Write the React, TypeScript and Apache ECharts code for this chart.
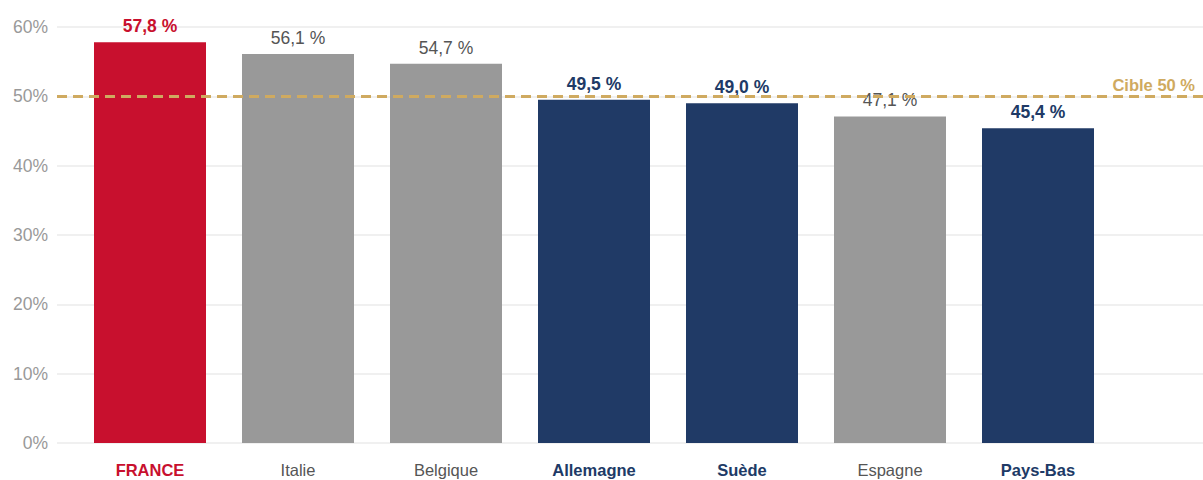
import React, { useEffect, useRef } from "react";
import * as echarts from "echarts";

const categories = ["FRANCE", "Italie", "Belgique", "Allemagne", "Suède", "Espagne", "Pays-Bas"];
const values = [57.8, 56.1, 54.7, 49.5, 49.0, 47.1, 45.4];
const groups = ["france", "other", "other", "peer", "peer", "other", "peer"];
const yTicks = [0, 10, 20, 30, 40, 50, 60];
const target = 50;
const targetLabel = "Cible 50 %";

const palette: Record<string, { bar: string; text: string; weight: string }> = {
  france: { bar: "#c8102e", text: "#c8102e", weight: "bold" },
  other: { bar: "#999999", text: "#555555", weight: "normal" },
  peer: { bar: "#203a66", text: "#203a66", weight: "bold" },
};

const FONT = "'Liberation Sans', Arial, Helvetica, sans-serif";

export default function App() {
  const ref = useRef<HTMLDivElement>(null);
  useEffect(() => {
    document.body.style.margin = "0";
    if (!ref.current) return;
    const chart = echarts.init(ref.current, undefined, { renderer: "svg" });
    const fmt = (v: number) => v.toFixed(1).replace(".", ",") + " %";
    const rich: Record<string, any> = {};
    Object.keys(palette).forEach((k) => {
      rich[k] = {
        color: palette[k].text,
        fontWeight: palette[k].weight,
        fontSize: 16.5,
        fontFamily: FONT,
      };
    });
    chart.setOption({
      animation: false,
      textStyle: { fontFamily: FONT },
      grid: [
        { left: 57, right: 0, top: 27, bottom: 37 },
        { left: 76, right: 91, top: 27, bottom: 37 },
      ],
      xAxis: [
        { gridIndex: 0, type: "value", min: 0, max: 1, show: false },
        {
          gridIndex: 1,
          type: "category",
          data: categories,
          axisLine: { show: false },
          axisTick: { show: false },
          axisLabel: {
            margin: 18,
            formatter: (v: string, i: number) => `{${groups[i]}|${v}}`,
            rich,
          },
        },
      ],
      yAxis: [
        {
          gridIndex: 0,
          type: "value",
          min: yTicks[0],
          max: yTicks[yTicks.length - 1],
          interval: 10,
          axisLine: { show: false },
          axisTick: { show: false },
          axisLabel: {
            formatter: "{value}%",
            color: "#999999",
            fontSize: 17.5,
            fontFamily: FONT,
            margin: 9,
            padding: [0, 0, 8, 0],
          },
          splitLine: { lineStyle: { color: "#ebebeb", width: 1.5 } },
        },
        {
          gridIndex: 1,
          type: "value",
          min: yTicks[0],
          max: yTicks[yTicks.length - 1],
          show: false,
          splitLine: { show: false },
        },
      ],
      series: [
        {
          type: "bar",
          xAxisIndex: 1,
          yAxisIndex: 1,
          barWidth: 112,
          z: 2,
          data: values.map((v, i) => ({
            value: v,
            itemStyle: { color: palette[groups[i]].bar },
            label: {
              color: palette[groups[i]].text,
              fontWeight: palette[groups[i]].weight,
            },
          })),
          label: {
            show: true,
            position: "top",
            distance: 7,
            fontSize: 17.5,
            fontFamily: FONT,
            formatter: (p: any) => fmt(p.value),
          },
        },
        {
          type: "scatter",
          xAxisIndex: 0,
          yAxisIndex: 0,
          symbolSize: 0,
          silent: true,
          z: 5,
          data: [[0, 0]],
          markLine: {
            silent: true,
            symbol: "none",
            lineStyle: { color: "#cfaa60", type: [10, 6], width: 3 },
            label: {
              show: true,
              position: "insideEndTop",
              formatter: targetLabel,
              color: "#cfaa60",
              fontWeight: "bold",
              fontSize: 16.5,
              fontFamily: FONT,
              distance: [8, 3],
            },
            data: [{ yAxis: target }],
          },
        },
      ],
    });
    return () => chart.dispose();
  }, []);
  return <div ref={ref} style={{ width: 1203, height: 480 }} />;
}
